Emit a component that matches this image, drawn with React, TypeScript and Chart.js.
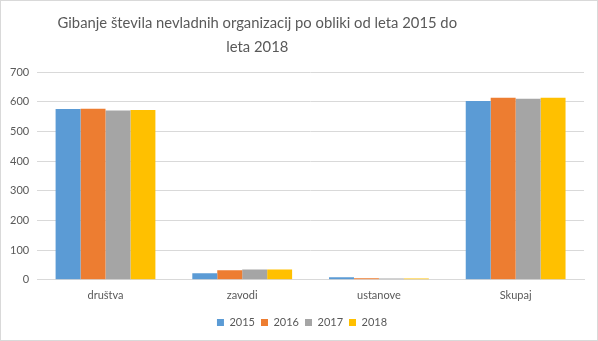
import React, { useEffect, useRef } from "react";
import { Chart, registerables } from "chart.js";

Chart.register(...registerables);

const categories = ["društva", "zavodi", "ustanove", "Skupaj"];
const v2015 = [575, 22, 9, 602];
const v2016 = [576, 32, 5, 613];
const v2017 = [570, 35, 4, 610];
const v2018 = [572, 35, 4, 613];
const seriesLabels = ["2015", "2016", "2017", "2018"];
const colors = ["#5B9BD5", "#ED7D31", "#A5A5A5", "#FFC000"];
const titleLines = ["Gibanje števila nevladnih organizacij po obliki od leta 2015 do", "leta 2018"];

const titlePlugin = {
  id: "offsetTitle",
  afterLayout(chart: any) {
    if (chart.legend) {
      chart.legend.left = 8;
      chart.legend.right = chart.width - 2;
    }
  },
  afterDraw(chart: any) {
    const ctx = chart.ctx;
    ctx.save();
    ctx.fillStyle = "#595959";
    ctx.font = "14.8px Lato";
    ctx.textAlign = "center";
    ctx.textBaseline = "middle";
    const cx = chart.width * 0.43;
    titleLines.forEach((t, i) => ctx.fillText(t, cx, 22 + i * 24));
    ctx.restore();
  },
};

export default function App() {
  const ref = useRef<HTMLCanvasElement>(null);
  useEffect(() => {
    document.body.style.margin = "0";
    const values = [v2015, v2016, v2017, v2018];
    const chart = new Chart(ref.current!, {
      type: "bar",
      data: {
        labels: categories,
        datasets: seriesLabels.map((l, i) => ({
          label: l,
          data: values[i],
          backgroundColor: colors[i],
          borderWidth: 0,
          categoryPercentage: 0.73,
          barPercentage: 1,
        })),
      },
      plugins: [titlePlugin],
      options: {
        animation: false,
        responsive: false,
        maintainAspectRatio: false,
        layout: { padding: { left: 1, right: 13, top: 71, bottom: 2 } },
        plugins: {
          title: { display: false },
          legend: {
            position: "bottom",
            labels: {
              boxWidth: 7,
              boxHeight: 7,
              color: "#595959",
              font: { family: "Lato", size: 11 },
              padding: 6,
            },
          },
          tooltip: { enabled: false },
        },
        scales: {
          x: {
            grid: { display: false, drawTicks: false },
            border: { color: "#d9d9d9" },
            ticks: { color: "#595959", font: { family: "Lato", size: 11 }, padding: 9 },
          },
          y: {
            min: 0,
            max: 700,
            ticks: { stepSize: 100, color: "#595959", font: { family: "Lato", size: 11 }, padding: 8 },
            grid: { color: "#d9d9d9", drawTicks: false },
            border: { display: false },
          },
        },
      },
    });
    return () => chart.destroy();
  }, []);
  return (
    <div style={{ width: 598, height: 341, boxSizing: "border-box", border: "1px solid #d9d9d9", background: "#fff" }}>
      <canvas ref={ref} width={596} height={339} />
    </div>
  );
}
